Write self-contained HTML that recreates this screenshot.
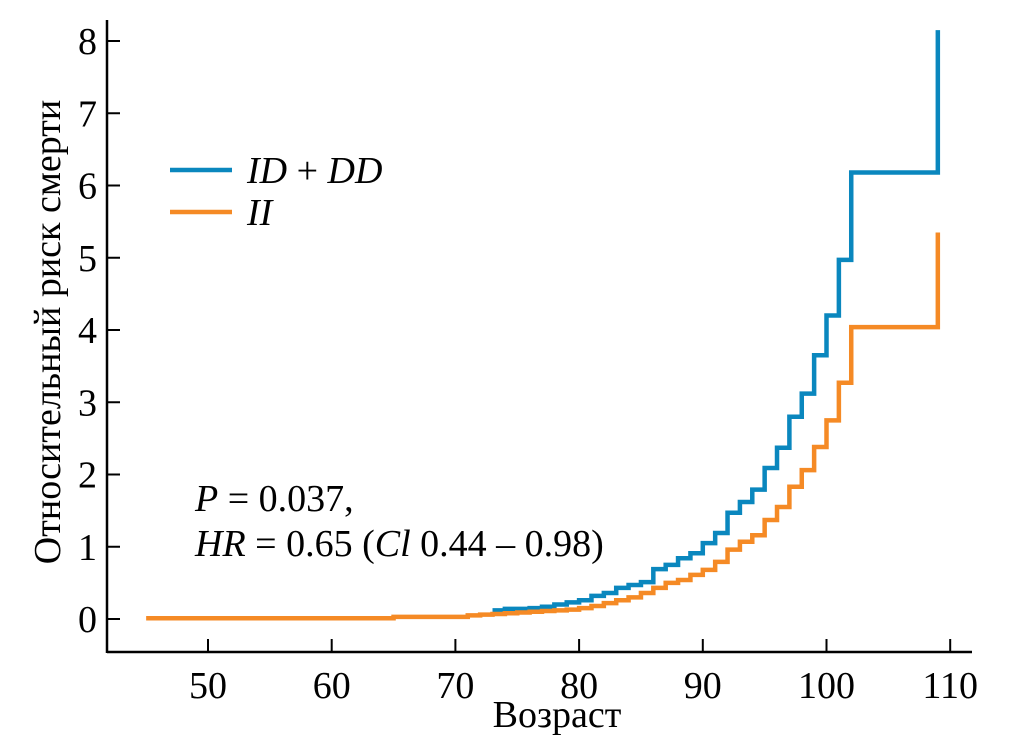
<!DOCTYPE html>
<html><head><meta charset="utf-8"><style>
html,body{margin:0;padding:0;background:#fff}
svg{display:block;font-family:"Liberation Serif",serif}
</style></head><body>
<svg id="chart" width="1010" height="738" viewBox="0 0 1010 738">
<g id="axes"></g>
<g id="series"></g>
<g>
<line x1="170" y1="170" x2="232" y2="170" stroke="#0a87be" stroke-width="4.5"/>
<text x="247" y="183" font-size="38" font-style="italic">ID <tspan font-style="normal">+</tspan> DD</text>
<line x1="170" y1="212" x2="232" y2="212" stroke="#f58a25" stroke-width="4.5"/>
<text x="247" y="225" font-size="38" font-style="italic">II</text>
</g>
<text x="195" y="511" font-size="38"><tspan font-style="italic">P</tspan> = 0.037,</text>
<text x="195" y="556" font-size="38"><tspan font-style="italic">HR</tspan> = 0.65 (<tspan font-style="italic">Cl</tspan> 0.44 – 0.98)</text>
<text x="557" y="727" font-size="38" text-anchor="middle">Возраст</text>
<text transform="translate(60,332) rotate(-90)" font-size="38" text-anchor="middle">Относительный риск смерти</text>
</svg>
<script>
const xTicks=[50,60,70,80,90,100,110];
const yTicks=[0,1,2,3,4,5,6,7,8];
const blueAges=[73,74,75,76,77,78,79,80,81,82,83,84,85,86,87,88,89,90,91,92,93,94,95,96,97,98,99,100,101,102,109];
const blueVals=[0.12,0.14,0.14,0.15,0.17,0.2,0.23,0.26,0.32,0.36,0.43,0.47,0.51,0.69,0.75,0.84,0.91,1.05,1.19,1.47,1.62,1.79,2.09,2.37,2.8,3.12,3.65,4.2,4.97,6.18,8.15];
const orangeAges=[45,65,71,72,73,74,75,76,77,78,79,80,81,82,83,84,85,86,87,88,89,90,91,92,93,94,95,96,97,98,99,100,101,102,109];
const orangeVals=[0.01,0.03,0.05,0.06,0.07,0.08,0.09,0.1,0.11,0.12,0.13,0.15,0.18,0.22,0.26,0.3,0.36,0.43,0.5,0.54,0.61,0.68,0.79,0.96,1.07,1.16,1.37,1.55,1.83,2.06,2.38,2.75,3.27,4.04,5.35];
const NS="http://www.w3.org/2000/svg";
const X=v=>208+(v-50)*12.37;
const Y=v=>619-v*72.25;
function mk(t,a,p){const e=document.createElementNS(NS,t);for(const k in a)e.setAttribute(k,a[k]);p.appendChild(e);return e;}
const ax=document.getElementById('axes');
const xl=mk('line',{x1:107,y1:652,x2:972,y2:652,stroke:'#000','stroke-width':2.5},ax);


const yl=mk('line',{x1:107,y1:20,x2:107,y2:653,stroke:'#000','stroke-width':2.5},ax);


xTicks.forEach(v=>{
 const t=mk('line',{x1:X(v),y1:652,x2:X(v),y2:639,stroke:'#000','stroke-width':2},ax);
 
 
 const l=mk('text',{x:X(v),y:698,'font-size':38,'text-anchor':'middle'},ax);l.textContent=v;
 
 
});
yTicks.forEach(v=>{
 const t=mk('line',{x1:107,y1:Y(v),x2:120,y2:Y(v),stroke:'#000','stroke-width':2},ax);
 
 
 const l=mk('text',{x:97,y:Y(v)+13,'font-size':38,'text-anchor':'end'},ax);l.textContent=v;
 
 
});
function stepPath(ages,vals){
 let d='M'+X(ages[0])+' '+Y(vals[0]);
 for(let i=1;i<ages.length;i++){d+=' H'+X(ages[i])+' V'+Y(vals[i]);}
 return d;
}
const sg=document.getElementById('series');
const pb=mk('path',{d:stepPath(blueAges,blueVals),fill:'none',stroke:'#0a87be','stroke-width':4.5},sg);


const po=mk('path',{d:stepPath(orangeAges,orangeVals),fill:'none',stroke:'#f58a25','stroke-width':4.5},sg);


</script>
</body></html>
